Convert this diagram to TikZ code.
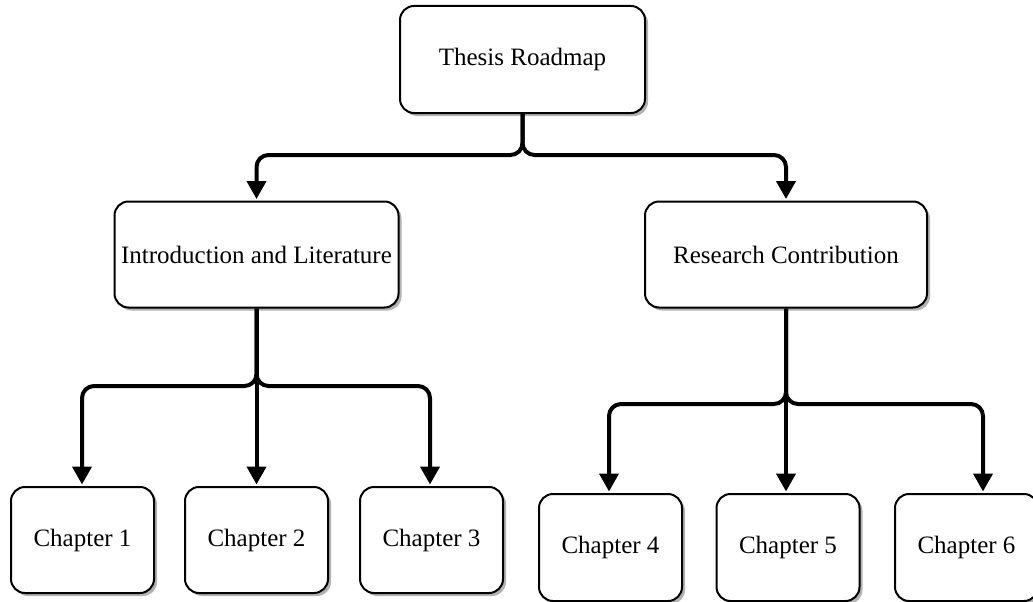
\documentclass[tikz,border=0pt]{standalone}
\usepackage{fontspec}
\setmainfont{Liberation Serif}
\usetikzlibrary{arrows.meta,shadows}
\begin{document}
\begin{tikzpicture}[x=1pt,y=-1pt,
  box/.style={draw=black, line width=2pt, fill=white, rounded corners=14pt,
    inner sep=0pt, align=center, font=\fontsize{25}{30}\selectfont,
    drop shadow={shadow xshift=3pt, shadow yshift=-3pt, fill=black!30, opacity=1}},
  conn/.style={line width=4pt, rounded corners=12pt,
    -{Triangle[length=18pt,width=19pt]}, shorten >=1.5pt}
]
\useasboundingbox (0,0) rectangle (1033,602);
\clip (0,0) rectangle (1033,602);
\node[box, minimum width=245pt, minimum height=107pt] (root) at (522.5,59.5) {Thesis Roadmap};
\node[box, minimum width=284pt, minimum height=106pt] (intro) at (256.5,254.5) {Introduction and Literature};
\node[box, minimum width=282pt, minimum height=106pt] (res) at (786,254.5) {Research Contribution};
\node[box, minimum width=143pt, minimum height=106pt] (c1) at (82.5,540) {Chapter 1};
\node[box, minimum width=143pt, minimum height=106pt] (c2) at (256.5,540) {Chapter 2};
\node[box, minimum width=143pt, minimum height=106pt] (c3) at (431.5,540) {Chapter 3};
\node[box, minimum width=143pt, minimum height=107pt] (c4) at (610.5,547.5) {Chapter 4};
\node[box, minimum width=143pt, minimum height=107pt] (c5) at (788,547.5) {Chapter 5};
\node[box, minimum width=143pt, minimum height=107pt] (c6) at (966.5,547.5) {Chapter 6};
\coordinate (j0) at (522.5,155);
\coordinate (j1) at (256.5,386);
\coordinate (j2) at (787,404);
\draw[conn] (root.south) |- (intro.north |- j0) -- (intro.north);
\draw[conn] (root.south) |- (res.north |- j0) -- (res.north);
\draw[conn] (intro.south) |- ([xshift=-0.5pt]c1.north |- j1) -- ([xshift=-0.5pt]c1.north);
\draw[conn] (intro.south) -- (c2.north);
\draw[conn] (intro.south) |- ([xshift=-1.5pt]c3.north |- j1) -- ([xshift=-1.5pt]c3.north);
\draw[conn] (res.south) |- ([xshift=-1.5pt]c4.north |- j2) -- ([xshift=-1.5pt]c4.north);
\draw[conn] (res.south) -- (res.south |- c5.north);
\draw[conn] (res.south) |- ([xshift=16.5pt]c6.north |- j2) -- ([xshift=16.5pt]c6.north);
\end{tikzpicture}
\end{document}
